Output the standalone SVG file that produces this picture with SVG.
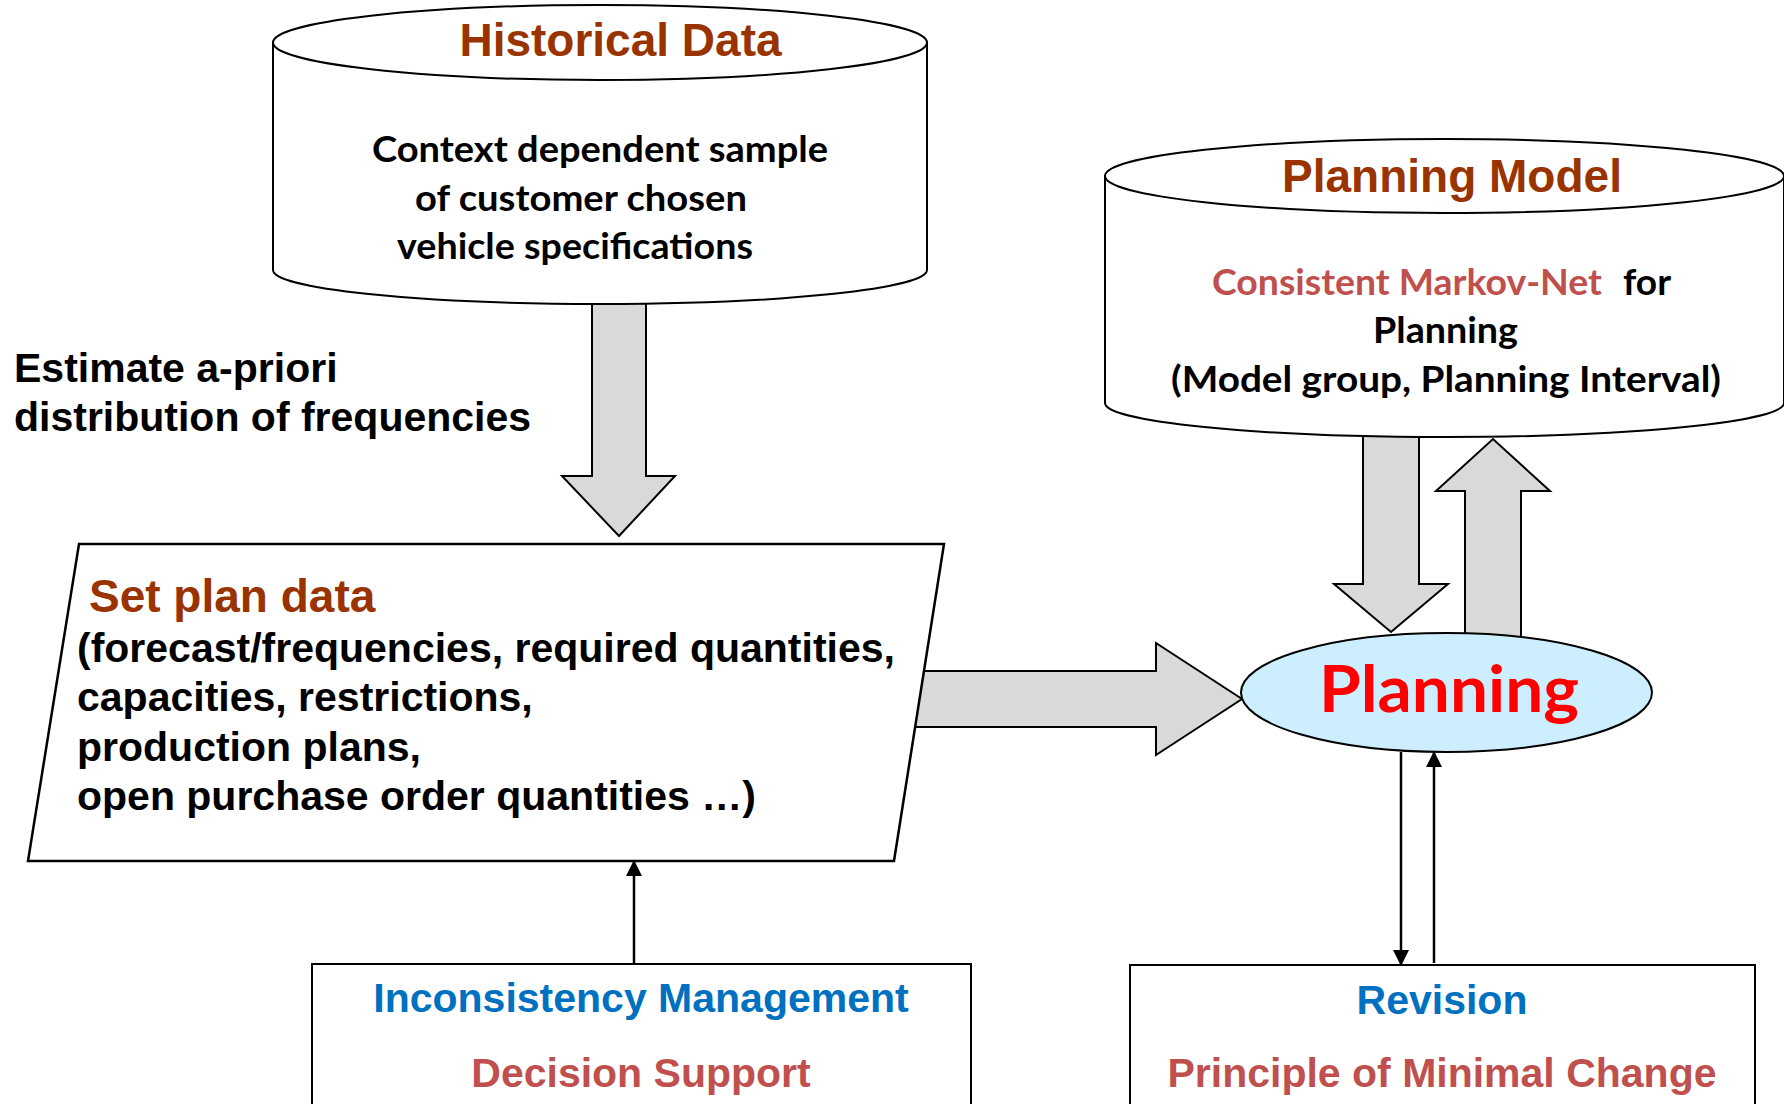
<svg xmlns="http://www.w3.org/2000/svg" width="1784" height="1104" viewBox="0 0 1784 1104">
  <defs>
    <marker id="tip" markerUnits="userSpaceOnUse" markerWidth="16" markerHeight="16" viewBox="0 0 16 16" refX="15" refY="8" orient="auto">
      <path d="M0,0 L16,8 L0,16 Z" fill="#000"/>
    </marker>
    <style>
      .shape { fill: #fff; stroke: #000; stroke-width: 2; }
      .block { fill: #d9d9d9; stroke: #000; stroke-width: 2; stroke-linejoin: miter; }
      .thin { fill: none; stroke: #000; stroke-width: 2.5; marker-end: url(#tip); }
      .arial { font-family: "Liberation Sans", Arial, sans-serif; font-weight: bold; }
      .cal { font-family: Lato, "Open Sans", sans-serif; font-weight: bold; }
      .title { font-size: 46px; fill: #993300; }
      .body { font-size: 41px; fill: #000; }
      .calbody { font-size: 36px; fill: #000; }
      .blue { fill: #0070c0; }
      .rose { fill: #c0504d; }
    </style>
  </defs>
  <rect width="1784" height="1104" fill="#fff"/>

  <!-- block arrows and thin connectors, drawn beneath the shapes -->
  <g id="connectors">
    <polygon class="block" points="592,290 646,290 646,476 675,476 619,536 562,476 592,476"/>
    <polygon class="block" points="900,671 1156,671 1156,643 1242,699 1156,755 1156,727 900,727"/>
    <polygon class="block" points="1363,425 1419,425 1419,584 1448,584 1391,632 1334,584 1363,584"/>
    <polygon class="block" points="1465,650 1465,491 1436,491 1493,439 1550,491 1521,491 1521,650"/>
    <line class="thin" x1="1401" y1="752" x2="1401" y2="965"/>
    <line class="thin" x1="1434" y1="963" x2="1434" y2="752"/>
    <line class="thin" x1="634" y1="964" x2="634" y2="861"/>
  </g>

  <g id="historical-data">
    <path class="shape" d="M273,42.5 V270 A327,34 0 0 0 927,270 V42.5 Z"/>
    <ellipse class="shape" cx="600" cy="42.5" rx="327" ry="37.5"/>
    <text class="arial title" x="620.5" y="56" text-anchor="middle">Historical Data</text>
    <text class="cal calbody" x="372" y="162" textLength="456" lengthAdjust="spacingAndGlyphs">Context dependent sample</text>
    <text class="cal calbody" x="415" y="211" textLength="332" lengthAdjust="spacingAndGlyphs">of customer chosen</text>
    <text class="cal calbody" x="397" y="259" textLength="356" lengthAdjust="spacingAndGlyphs">vehicle specifications</text>
  </g>

  <g id="planning-model">
    <path class="shape" d="M1105,176 V403 A339.5,34 0 0 0 1784,403 V176 Z"/>
    <ellipse class="shape" cx="1444.5" cy="176" rx="339.5" ry="37"/>
    <text class="arial title" x="1452" y="192" text-anchor="middle">Planning Model</text>
    <text class="cal calbody rose" x="1212" y="295" textLength="390" lengthAdjust="spacingAndGlyphs">Consistent Markov-Net</text>
    <text class="cal calbody" x="1623" y="295" textLength="48" lengthAdjust="spacingAndGlyphs">for</text>
    <text class="cal calbody" x="1373" y="343" textLength="145" lengthAdjust="spacingAndGlyphs">Planning</text>
    <text class="cal calbody" x="1171" y="392" textLength="550" lengthAdjust="spacingAndGlyphs">(Model group, Planning Interval)</text>
  </g>

  <text id="estimate-label" class="arial body" x="14" y="382">Estimate a-priori<tspan x="14" y="431">distribution of frequencies</tspan></text>

  <g id="set-plan-data">
    <polygon class="shape" style="stroke-width:2.5" points="79,544 944,544 894,861 28,861"/>
    <text class="arial title" x="89" y="612">Set plan data</text>
    <text class="arial body" x="77" y="662">(forecast/frequencies, required quantities,</text>
    <text class="arial body" x="77" y="711">capacities, restrictions,</text>
    <text class="arial body" x="77" y="761">production plans,</text>
    <text class="arial body" x="77" y="810">open purchase order quantities …)</text>
  </g>

  <g id="planning">
    <ellipse cx="1446.5" cy="692.5" rx="205.5" ry="59.5" fill="#cceeff" stroke="#000" stroke-width="2"/>
    <text class="cal" x="1319" y="712" font-size="65" fill="#ff0000" textLength="260" lengthAdjust="spacingAndGlyphs">Planning</text>
  </g>

  <g id="inconsistency-management">
    <rect class="shape" x="312" y="964" width="659" height="160"/>
    <text class="arial body blue" x="641" y="1012" text-anchor="middle">Inconsistency Management</text>
    <text class="arial body rose" x="641" y="1087" text-anchor="middle">Decision Support</text>
  </g>

  <g id="revision">
    <rect class="shape" x="1130" y="965" width="625" height="160"/>
    <text class="arial body blue" x="1442" y="1014" text-anchor="middle">Revision</text>
    <text class="arial body rose" x="1442" y="1087" text-anchor="middle">Principle of Minimal Change</text>
  </g>
</svg>
